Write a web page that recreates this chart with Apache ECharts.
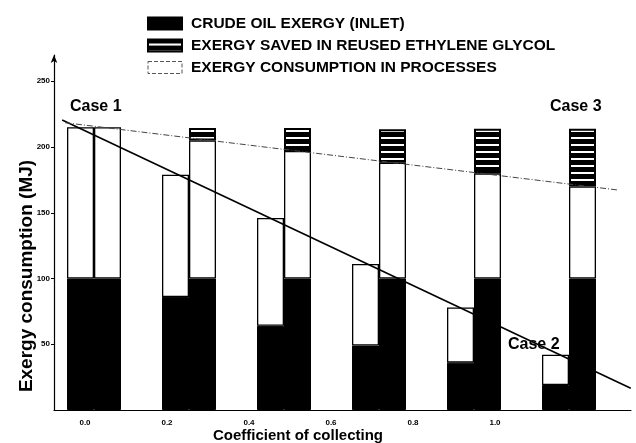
<!DOCTYPE html>
<html>
<head>
<meta charset="utf-8">
<script src="https://cdn.jsdelivr.net/npm/echarts@6/dist/echarts.min.js"></script>
<style>
html,body{margin:0;padding:0;background:#fff;}
#chart{width:636px;height:443px;}
</style>
</head>
<body>
<div id="chart"></div>
<script>
// ---- data ----
const categories = ['0.0', '0.2', '0.4', '0.6', '0.8', '1.0'];
// left bar of each pair
const leftCrude = [100, 86, 64, 49, 36, 19];
const leftConsumption = [115, 93, 82, 62, 42, 23];
// right bar of each pair
const rightCrude = [100, 100, 100, 100, 100, 100];
const rightConsumption = [115, 105, 97, 88, 80, 70];
const rightSaved = [0, 9.5, 17.5, 25.5, 34, 44];
// trend lines (coefficient, MJ)
const solidTrend = [[-0.067, 220.5], [1.13, 16.5]];
const dashedTrend = [[-0.061, 218.5], [1.103, 167.3]];
// axis ticks
const xTickValues = [0, 0.2, 0.4, 0.6, 0.8, 1.0];
const xTickLabels = ['0.0', '0.2', '0.4', '0.6', '0.8', '1.0'];
const yTickValues = [50, 100, 150, 200, 250];

const NAME_CRUDE = 'CRUDE OIL EXERGY (INLET)';
const NAME_SAVED = 'EXERGY SAVED IN REUSED ETHYLENE GLYCOL';
const NAME_CONS = 'EXERGY CONSUMPTION IN PROCESSES';

const FONT = '"Liberation Sans", Arial, Helvetica, sans-serif';

// hatched pattern: black with thin white horizontal stripes
const pc = document.createElement('canvas');
pc.width = 4; pc.height = 7;
const pctx = pc.getContext('2d');
pctx.fillStyle = '#000'; pctx.fillRect(0, 0, 4, 7);
pctx.fillStyle = '#fff'; pctx.fillRect(0, 4, 4, 2);
const hatch = { image: pc, repeat: 'repeat' };

const zeroToGap = (vals) => vals.map(v => v === 0 ? '-' : v);

const chart = echarts.init(document.getElementById('chart'), null, { renderer: 'canvas' });

const barCommon = {
  type: 'bar', xAxisIndex: 0, yAxisIndex: 0,
  barWidth: 27, barGap: '0%', animation: false
};

const Y_MAX = 270;

chart.setOption({
  backgroundColor: '#fff',
  animation: false,
  textStyle: { fontFamily: FONT },
  legend: {
    orient: 'vertical', left: 147, top: 15, padding: 0,
    itemWidth: 34, itemHeight: 12, itemGap: 5,
    icon: 'rect',
    textStyle: { fontFamily: FONT, fontWeight: 'bold', fontSize: 15.5, color: '#000', lineHeight: 17, padding: [0, 0, 0, 4] },
    data: [
      { name: NAME_CRUDE },
      { name: NAME_SAVED },
      { name: NAME_CONS, itemStyle: { color: '#fff', borderColor: '#555', borderWidth: 1, borderType: 'dashed' } }
    ]
  },
  grid: [
    // bars grid (category bands)
    { left: 46.5, right: 19.5, top: 55, bottom: 33, containLabel: false },
    // main axes grid
    { left: 54, right: 5, top: 55, bottom: 33, containLabel: false }
  ],
  xAxis: [
    {
      type: 'category', gridIndex: 0, data: categories, boundaryGap: true,
      axisLine: { show: false }, axisTick: { show: false }, axisLabel: { show: false }, splitLine: { show: false }
    },
    {
      type: 'value', gridIndex: 1, min: -0.0842, max: 1.1305,
      axisLine: { show: true, onZero: false, lineStyle: { color: '#000', width: 1.2 } },
      axisTick: { show: false }, axisLabel: { show: false }, splitLine: { show: false }
    },
    {
      type: 'value', gridIndex: 1, position: 'bottom', min: -0.0756, max: 1.3317,
      axisLine: { show: false }, axisTick: { show: false }, splitLine: { show: false },
      axisLabel: {
        customValues: xTickValues, margin: 9,
        fontFamily: FONT, fontWeight: 'bold', fontSize: 8, color: '#000',
        formatter: (v) => xTickLabels[Math.round(v / 0.2)]
      }
    }
  ],
  yAxis: [
    {
      type: 'value', gridIndex: 0, min: 0, max: Y_MAX, show: false
    },
    {
      type: 'value', gridIndex: 1, min: 0, max: Y_MAX,
      axisLine: { show: true, onZero: false, symbol: ['none', 'arrow'], symbolSize: [5, 8], lineStyle: { color: '#000', width: 1.2 } },
      axisTick: { show: true, customValues: yTickValues, length: 3, lineStyle: { color: '#000' } },
      axisLabel: { customValues: yTickValues, margin: 4, fontFamily: FONT, fontWeight: 'bold', fontSize: 8, color: '#000' },
      splitLine: { show: false }
    }
  ],
  series: [
    Object.assign({}, barCommon, { name: NAME_CRUDE, stack: 'L', data: leftCrude,
      itemStyle: { color: '#000', borderColor: '#000', borderWidth: 1 } }),
    Object.assign({}, barCommon, { name: NAME_CONS, stack: 'L', data: leftConsumption,
      itemStyle: { color: '#fff', borderColor: '#000', borderWidth: 1.3 } }),
    Object.assign({}, barCommon, { name: NAME_CRUDE, stack: 'R', data: rightCrude,
      itemStyle: { color: '#000', borderColor: '#000', borderWidth: 1 } }),
    Object.assign({}, barCommon, { name: NAME_CONS, stack: 'R', data: rightConsumption,
      itemStyle: { color: '#fff', borderColor: '#000', borderWidth: 1.3 } }),
    Object.assign({}, barCommon, { name: NAME_SAVED, stack: 'R', data: zeroToGap(rightSaved),
      itemStyle: { color: hatch, borderColor: '#000', borderWidth: 2 } }),
    {
      type: 'line', name: 'solid', xAxisIndex: 1, yAxisIndex: 1, data: solidTrend,
      symbol: 'none', z: 5, lineStyle: { color: '#000', width: 1.6 }, animation: false
    },
    {
      type: 'line', name: 'dashed', xAxisIndex: 1, yAxisIndex: 1, data: dashedTrend,
      symbol: 'none', z: 5, lineStyle: { color: '#444', width: 1, type: [6, 2, 1, 2] }, animation: false
    }
  ],
  graphic: [
    { type: 'text', x: 27, y: 276, rotation: Math.PI / 2,
      style: { text: 'Exergy consumption (MJ)', font: 'bold 19px ' + FONT, fill: '#000', align: 'center', verticalAlign: 'middle' } },
    { type: 'text', x: 298, y: 436,
      style: { text: 'Coefficient of collecting', font: 'bold 15px ' + FONT, fill: '#000', align: 'center', verticalAlign: 'middle' } },
    { type: 'text', x: 70, y: 107,
      style: { text: 'Case 1', font: 'bold 16px ' + FONT, fill: '#000', align: 'left', verticalAlign: 'middle' } },
    { type: 'text', x: 550, y: 107,
      style: { text: 'Case 3', font: 'bold 16px ' + FONT, fill: '#000', align: 'left', verticalAlign: 'middle' } },
    { type: 'text', x: 508, y: 345,
      style: { text: 'Case 2', font: 'bold 16px ' + FONT, fill: '#000', align: 'left', verticalAlign: 'middle' } }
  ]
});
</script>
</body>
</html>
